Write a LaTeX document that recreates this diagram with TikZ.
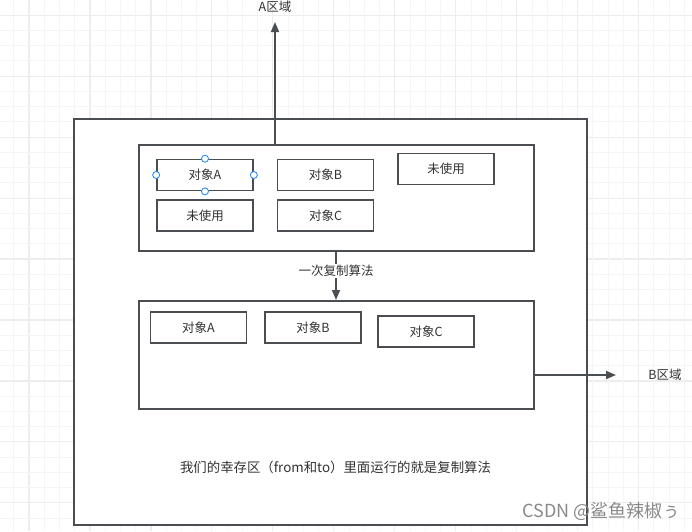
\documentclass[tikz,border=0pt]{standalone}
\usepackage{fontspec}
\newfontfamily\cjk{Noto Sans CJK SC}
\usetikzlibrary{arrows.meta}
\definecolor{linegray}{HTML}{4A4D52}
\definecolor{txtgray}{HTML}{333333}
\definecolor{gridthin}{HTML}{F5F5F5}
\definecolor{gridthick}{HTML}{EDEDED}
\definecolor{handleblue}{HTML}{2E8CFF}
\definecolor{wmgray}{HTML}{8A8A8A}
\begin{document}
\begin{tikzpicture}[x=1pt,y=-1pt,
  every node/.style={font=\cjk\fontsize{12.5}{14}\selectfont, text=txtgray, inner sep=0pt},
  frame/.style={draw=linegray, line width=1.7pt, fill=white},
  objbox/.style={draw=linegray, line width=1.7pt, fill=white, minimum width=96pt, minimum height=31pt},
  conn/.style={draw=linegray, line width=1.6pt, -{Triangle[length=10pt,width=8pt]}},
  handle/.style={circle, draw=handleblue, fill=white, line width=0.9pt, minimum size=7pt, inner sep=0pt}
]
\useasboundingbox (0,0) rectangle (692,531);
\fill[white] (0,0) rectangle (692,531);
% grid
\foreach \k in {0,...,45} {
  \pgfmathsetmacro{\xx}{13.8+15.24*\k}
  \pgfmathsetmacro{\yy}{15.2+15.24*\k}
  \pgfmathtruncatemacro{\mx}{mod(\k,4)}
  \ifnum\mx=1
    \draw[gridthick, line width=1.1pt] (\xx,0) -- (\xx,531);
  \else
    \draw[gridthin, line width=0.9pt] (\xx,0) -- (\xx,531);
  \fi
  \ifnum\mx=0
    \draw[gridthick, line width=1.1pt] (0,\yy) -- (692,\yy);
  \else
    \draw[gridthin, line width=0.9pt] (0,\yy) -- (692,\yy);
  \fi
}
% outer frame
\node[frame, minimum width=513pt, minimum height=406pt, anchor=north west] (outer) at (73,118) {};
% top region
\node[frame, minimum width=395pt, minimum height=106pt, anchor=north west] (topbox) at (138,144) {};
\node[objbox] (a1) at (205,175) {对象A};
\node[objbox] (b1) at (325.5,175) {对象B};
\node[objbox] (u1) at (446,169) {未使用};
\node[objbox] (u2) at (205,215.5) {未使用};
\node[objbox] (c1) at (325.5,215.5) {对象C};
% selection handles
\node[handle] (h1) at (a1.west) {};
\node[handle] (h2) at (a1.east) {};
\node[handle] (h3) at (a1.north) {};
\node[handle] (h4) at (a1.south) {};
% bottom region
\node[frame, minimum width=395pt, minimum height=108pt, anchor=north west] (botbox) at (138,300) {};
\node[objbox] (a2) at (198.5,327.5) {对象A};
\node[objbox] (b2) at (313,327.5) {对象B};
\node[objbox] (c2) at (426,331.5) {对象C};
% A region arrow
\coordinate (atop) at (275,144);
\coordinate (atip) at (275,22);
\draw[conn] (atop) -- (atip);
\node (alabel) at (275,7) {A区域};
% copy arrow
\coordinate (cstart) at (336,250);
\draw[conn] (cstart) -- (cstart |- botbox.north);
\node[fill=white, inner sep=1pt] (clabel) at (336,271) {一次复制算法};
% B region arrow
\coordinate (bstart) at (533,375);
\coordinate (btip) at (616,375);
\draw[conn] (bstart) -- (btip);
\node (blabel) at (665,375) {B区域};
% caption
\node[font=\cjk\fontsize{13.4}{15}\selectfont] (caption) at (335.5,467) {我们的幸存区（from和to）里面运行的就是复制算法};
% watermark
\node[text=wmgray, font=\cjk\fontsize{18}{20}\selectfont, anchor=east] (wm) at (681,511) {CSDN @鲨鱼辣椒ぅ};
\end{tikzpicture}
\end{document}
